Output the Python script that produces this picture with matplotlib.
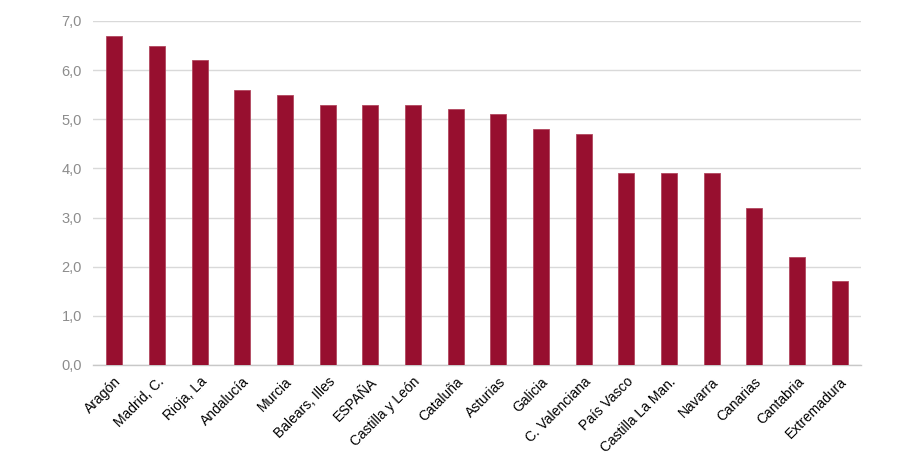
import matplotlib
matplotlib.use('Agg')
import matplotlib.pyplot as plt
from matplotlib.ticker import FuncFormatter

plt.rcParams['font.family'] = ['Liberation Sans', 'DejaVu Sans']

regions = ['Aragón', 'Madrid, C.', 'Rioja, La', 'Andalucía', 'Murcia', 'Balears, Illes',
           'ESPAÑA', 'Castilla y León', 'Cataluña', 'Asturias', 'Galicia', 'C. Valenciana',
           'País Vasco', 'Castilla La Man.', 'Navarra', 'Canarias', 'Cantabria', 'Extremadura']
values = [6.7, 6.5, 6.2, 5.6, 5.5, 5.3, 5.3, 5.3, 5.2, 5.1, 4.8, 4.7, 3.9, 3.9, 3.9, 3.2, 2.2, 1.7]
y_ticks = [0, 1, 2, 3, 4, 5, 6, 7]

fig = plt.figure(figsize=(9.19, 4.59), dpi=100)
ax = fig.add_axes([93/919, 1-365/459, 768/919, 344/459])

x = range(len(regions))
ax.bar(x, values, width=0.375, color='#970f2f', edgecolor='#b2475f', linewidth=0.6, zorder=3)

ax.set_xlim(-0.5, len(regions)-0.5)
ax.set_ylim(0, 7)
ax.set_yticks(y_ticks)
ax.yaxis.set_major_formatter(FuncFormatter(lambda v, p: f'{v:.1f}'.replace('.', ',')))
ax.grid(axis='y', color='#d9d9d9', linewidth=1, zorder=0)
for s in ['top', 'right', 'left']:
    ax.spines[s].set_visible(False)
ax.spines['bottom'].set_color('#c8c8c8')
ax.spines['bottom'].set_linewidth(1)
ax.tick_params(axis='y', length=0, pad=8, labelsize=10.5, labelcolor='#8c8c8c')
ax.tick_params(axis='x', length=0, pad=7)
ax.set_xticks(list(x))
ax.set_xticklabels(regions, rotation=45, ha='right', rotation_mode='anchor', fontsize=10, color='#000000')

fig.savefig('out.png', dpi=100)
